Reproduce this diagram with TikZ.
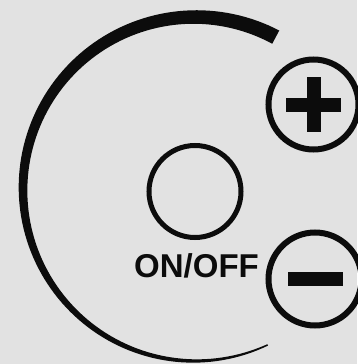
\documentclass[tikz,border=0pt]{standalone}
\usepackage{fontspec}
\setmainfont{Liberation Sans}
\usepackage{xcolor}
\usepackage{tikz}
\usetikzlibrary{shapes, positioning}
\definecolor{panelgray}{RGB}{226, 226, 226}
\definecolor{inkblack}{RGB}{12, 12, 12}

\begin{document}
\begin{tikzpicture}[x=1pt, y=-1pt,
    knob/.style={circle, draw=inkblack, line width=6pt, inner sep=0pt},
    declare function={archw(\t)=1.5+13.5*((295-\t)/233)^0.9;}]

    % Panel
    \fill[panelgray] (0,0) rectangle (357,364);
    \useasboundingbox (0,0) rectangle (357,364);

    % Tapered ring
    \fill[inkblack] plot[domain=62:295, samples=120]
        ({195+(172+archw(\x)/2)*cos(\x)}, {189-(172+archw(\x)/2)*sin(\x)})
        -- plot[domain=295:62, samples=120]
        ({195+(172-archw(\x)/2)*cos(\x)}, {189-(172-archw(\x)/2)*sin(\x)}) -- cycle;

    % ON/OFF button
    \node[knob, line width=5pt, minimum size=92pt] at (195,191.5) (onoff) {};
    \node[font=\bfseries\fontsize{33}{33}\selectfont, text=inkblack, anchor=base, inner sep=0pt] at (196.5,277) (onofflabel) {ON/OFF};

    % Plus button
    \node[knob, minimum size=90pt] at (313.5,104.5) (plus) {};
    \fill[inkblack] ([shift={(-27.5,-7)}]plus.center) rectangle ([shift={(27.5,7)}]plus.center);
    \fill[inkblack] ([shift={(-7,-27.5)}]plus.center) rectangle ([shift={(7,27.5)}]plus.center);

    % Minus button
    \node[knob, minimum size=93pt] at (315,279) (minus) {};
    \fill[inkblack] ([shift={(-27.5,-7)}]minus.center) rectangle ([shift={(27.5,7)}]minus.center);

\end{tikzpicture}
\end{document}
